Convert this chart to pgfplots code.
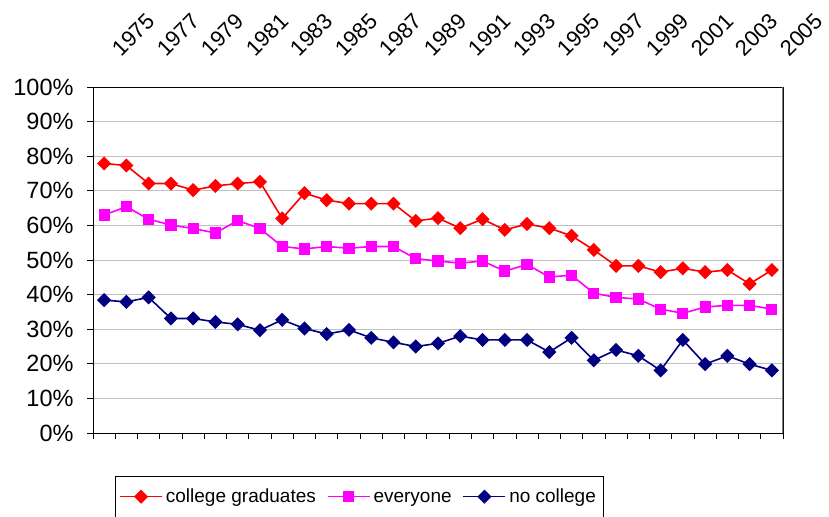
\documentclass[border=0pt]{standalone}
\usepackage{fontspec}
\setmainfont{Liberation Sans}
\usepackage{pgfplots}
\pgfplotsset{compat=1.18}
\definecolor{cred}{HTML}{FF0000}
\definecolor{cmag}{HTML}{FF00FF}
\definecolor{cnavy}{HTML}{000080}
\definecolor{gridgray}{HTML}{C0C0C0}
\begin{document}
\begin{tikzpicture}
\begin{axis}[
  scale only axis, width=690bp, height=346bp,
  xmin=-0.5, xmax=30.5, ymin=0, ymax=100,
  xtick={-0.5,0.5,...,30.5}, xticklabels={},
  ytick={0,10,...,100},
  yticklabel={\pgfmathprintnumber[assume math mode=true]{\tick}\%},
  yticklabel style={font=\fontsize{23.5bp}{27bp}\selectfont, anchor=east, xshift=-10bp},
  tick pos=left, tick align=outside, major tick length=6bp,
  tick style={black, line width=0.8bp},
  ymajorgrids, major grid style={gridgray, line width=0.8bp},
  axis line style={black, line width=0.9bp},
  legend columns=3,
  legend style={at={(rel axis cs:0.0319,-0.124)}, anchor=north west,
    draw=black, line width=0.6bp, font=\fontsize{19bp}{24bp}\selectfont,
    inner xsep=4bp, inner ysep=9bp,
    nodes={text height=15bp, text depth=4bp, inner xsep=3bp},
    /tikz/every even column/.append style={column sep=8bp}},
  legend image code/.code={\draw[mark repeat=2,mark phase=2,#1] plot coordinates {(0bp,0bp) (21bp,0bp) (42bp,0bp)};},
]
\addplot[cred, line width=1.6bp, mark=square*, mark size=4.2bp, mark options={rotate=45, solid}] coordinates {
(0,77.9)(1,77.3)(2,72.1)(3,72.1)(4,70.2)(5,71.4)(6,72.1)(7,72.6)(8,62.0)(9,69.3)
(10,67.3)(11,66.3)(12,66.3)(13,66.3)(14,61.3)(15,62.1)(16,59.2)(17,61.8)(18,58.7)(19,60.4)
(20,59.2)(21,57.0)(22,52.9)(23,48.3)(24,48.3)(25,46.5)(26,47.6)(27,46.5)(28,47.1)(29,43.1)(30,47.1)};
\addlegendentry{college graduates}
\addplot[cmag, line width=1.6bp, mark=square*, mark size=4.8bp] coordinates {
(0,63.0)(1,65.4)(2,61.8)(3,60.1)(4,59.1)(5,57.8)(6,61.4)(7,59.1)(8,53.9)(9,53.2)
(10,53.9)(11,53.4)(12,53.9)(13,53.9)(14,50.4)(15,49.7)(16,49.1)(17,49.7)(18,46.8)(19,48.7)
(20,45.1)(21,45.6)(22,40.4)(23,39.2)(24,38.7)(25,35.8)(26,34.6)(27,36.4)(28,36.9)(29,36.9)(30,35.8)};
\addlegendentry{everyone}
\addplot[cnavy, line width=1.6bp, mark=square*, mark size=4.2bp, mark options={rotate=45, solid}] coordinates {
(0,38.4)(1,37.9)(2,39.2)(3,33.1)(4,33.1)(5,32.1)(6,31.4)(7,29.7)(8,32.7)(9,30.2)
(10,28.6)(11,29.8)(12,27.5)(13,26.2)(14,25.0)(15,25.9)(16,28.0)(17,26.9)(18,26.9)(19,26.9)
(20,23.4)(21,27.5)(22,21.0)(23,24.0)(24,22.3)(25,18.1)(26,26.9)(27,19.9)(28,22.3)(29,19.9)(30,18.1)};
\addlegendentry{no college}
\draw[gray, line width=1.2bp] (rel axis cs:1,0) -- (rel axis cs:1,1);
\end{axis}
\begin{axis}[
  scale only axis, width=690bp, height=346bp,
  xmin=-0.5, xmax=30.5, ymin=0, ymax=100,
  hide y axis, axis x line*=top, x axis line style={draw=none},
  xtick={0,2,...,30},
  xticklabels={1975,1977,1979,1981,1983,1985,1987,1989,1991,1993,1995,1997,1999,2001,2003,2005},
  major tick length=0pt,
  xticklabel style={font=\fontsize{22bp}{25bp}\selectfont, xshift=15bp, yshift=27bp, rotate=45, anchor=base west},
]
\end{axis}
\pgfresetboundingbox
\path[use as bounding box] (-93bp,-84bp) rectangle (736bp,433bp);
\end{tikzpicture}
\end{document}
